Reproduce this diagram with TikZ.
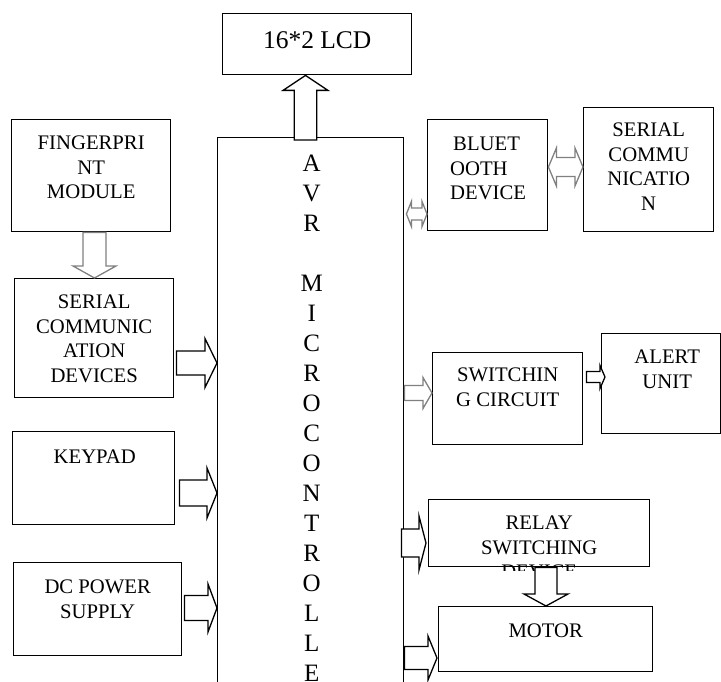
\documentclass[tikz,border=0pt]{standalone}
\usepackage{fontspec}
\setmainfont{Liberation Serif}
\usetikzlibrary{calc}

% Text sizes
\newcommand{\bodyfont}{\fontsize{20.7}{24.5}\selectfont}
\newcommand{\bigfont}{\fontsize{25.5}{30}\selectfont}

% Block arrows: [style]{tail}{tip}{shaft half width}{head half width}{head length}
\newcommand{\arrowR}[6][]{%
  \draw[#1] let \p1=(#2), \p2=(#3) in
    (\x1,\y2+#4pt) -- (\x2-#6pt,\y2+#4pt) -- (\x2-#6pt,\y2+#5pt) -- (\x2,\y2)
    -- (\x2-#6pt,\y2-#5pt) -- (\x2-#6pt,\y2-#4pt) -- (\x1,\y2-#4pt) -- cycle;}
\newcommand{\arrowD}[6][]{%
  \draw[#1] let \p1=(#2), \p2=(#3) in
    (\x2-#4pt,\y1) -- (\x2-#4pt,\y2+#6pt) -- (\x2-#5pt,\y2+#6pt) -- (\x2,\y2)
    -- (\x2+#5pt,\y2+#6pt) -- (\x2+#4pt,\y2+#6pt) -- (\x2+#4pt,\y1) -- cycle;}
\newcommand{\arrowU}[6][]{%
  \draw[#1] let \p1=(#2), \p2=(#3) in
    (\x2-#4pt,\y1) -- (\x2-#4pt,\y2-#6pt) -- (\x2-#5pt,\y2-#6pt) -- (\x2,\y2)
    -- (\x2+#5pt,\y2-#6pt) -- (\x2+#4pt,\y2-#6pt) -- (\x2+#4pt,\y1) -- cycle;}
\newcommand{\arrowLR}[6][]{%
  \draw[#1] let \p1=(#2), \p2=(#3) in
    (\x1,\y2) -- (\x1+#6pt,\y2+#5pt) -- (\x1+#6pt,\y2+#4pt) -- (\x2-#6pt,\y2+#4pt)
    -- (\x2-#6pt,\y2+#5pt) -- (\x2,\y2) -- (\x2-#6pt,\y2-#5pt) -- (\x2-#6pt,\y2-#4pt)
    -- (\x1+#6pt,\y2-#4pt) -- (\x1+#6pt,\y2-#5pt) -- cycle;}

\tikzset{
  box/.style={draw, line width=1.4pt, fill=white, anchor=north west, inner sep=0pt},
  boxtext/.style={anchor=north, align=center, inner sep=0pt, font=\bodyfont},
  blockarrow/.style={draw, line width=1.3pt, fill=white},
  greyarrow/.style={draw=black!50, line width=1.3pt, fill=white}
}

\begin{document}
\begin{tikzpicture}[x=1pt, y=-1pt]

\useasboundingbox (0,0) rectangle (721,682);

% Controller in the middle (runs off the bottom)
\node[box, minimum width=186pt, minimum height=600pt] (avr) at (217,137) {};
\node[anchor=north, align=center, inner sep=0pt, font=\fontsize{25}{30}\selectfont] (avrtext)
  at ([xshift=1pt, yshift=-18pt]avr.north)
  {A\\V\\R\\[30pt]M\\I\\C\\R\\O\\C\\O\\N\\T\\R\\O\\L\\L\\E};

% Display on top
\node[box, minimum width=189pt, minimum height=61pt] (lcd) at (222,13) {};
\node[boxtext, font=\bigfont] (lcdtext) at ([yshift=-18.5pt]lcd.north) {16*2 LCD};

% Left column
\node[box, minimum width=159pt, minimum height=112pt] (fp) at (11,119) {};
\node[boxtext] (fptext) at ([yshift=-17pt]fp.north) {FINGERPRI\\NT\\MODULE};

\node[box, minimum width=159pt, minimum height=119pt] (ser) at (14,278) {};
\node[boxtext] (sertext) at ([yshift=-17pt]ser.north) {SERIAL\\COMMUNIC\\ATION\\DEVICES};

\node[box, minimum width=162pt, minimum height=93pt] (key) at (12,431) {};
\node[boxtext] (keytext) at ([xshift=1pt, yshift=-19pt]key.north) {KEYPAD};

\node[box, minimum width=168pt, minimum height=93pt] (dc) at (13,562) {};
\node[boxtext] (dctext) at ([yshift=-18pt]dc.north) {DC POWER\\SUPPLY};

% Right column
\node[box, minimum width=120pt, minimum height=111pt] (bt) at (427,119) {};
\node[boxtext, anchor=north west, align=left] (bttext)
  at ([xshift=23pt, yshift=-18pt]bt.north west) {\hspace*{3pt}BLUET\\OOTH\\DEVICE};

\node[box, minimum width=130pt, minimum height=124pt] (com) at (583,107) {};
\node[boxtext] (comtext) at ([yshift=-16pt]com.north) {SERIAL\\COMMU\\NICATIO\\N};

\node[box, minimum width=150pt, minimum height=92pt] (sw) at (432,352) {};
\node[boxtext] (swtext) at ([yshift=-16pt]sw.north) {SWITCHIN\\G CIRCUIT};

\node[box, minimum width=119pt, minimum height=100pt] (alert) at (601,333) {};
\node[boxtext] (alerttext) at ([xshift=6pt, yshift=-17pt]alert.north) {ALERT\\UNIT};

\node[box, minimum width=221pt, minimum height=67pt] (relay) at (428,499) {};
\begin{scope}
  \clip (relay.north west) rectangle ([yshift=-3pt]relay.south east);
  \node[boxtext] (relaytext) at ([yshift=-17pt]relay.north) {RELAY\\SWITCHING\\DEVICE};
\end{scope}

\node[box, minimum width=214pt, minimum height=65pt] (motor) at (438,606) {};
\node[boxtext] (motortext) at ([yshift=-18pt]motor.north) {MOTOR};

% Arrows
\arrowU[blockarrow]{$(305.5,0 |- avr.north)+(0,3)$}{305.5,0 |- lcd.south}{11.3}{22.5}{15}
\arrowD[greyarrow]{94.5,0 |- fp.south}{94.5,0 |- ser.north}{11.5}{21.5}{12}
\arrowR[blockarrow]{[xshift=2pt]ser.east}{avr.west |- 0,363}{12}{24.5}{12}
\arrowR[blockarrow]{[xshift=4pt]key.east}{avr.west |- 0,493}{13}{25}{10}
\arrowR[blockarrow]{[xshift=2pt]dc.east}{avr.west |- 0,608}{12.5}{24}{9}
\arrowLR[greyarrow]{[xshift=2pt]avr.east |- 0,214}{bt.west |- 0,214}{6}{12.5}{5}
\arrowLR[greyarrow]{bt.east |- 0,167}{com.west |- 0,167}{9.5}{19}{8}
\arrowR[greyarrow]{avr.east |- 0,393}{sw.west |- 0,393}{7.5}{15.5}{9}
\arrowR[blockarrow]{[xshift=3pt]sw.east |- 0,377}{[xshift=4pt]alert.west |- 0,377}{5.5}{11.5}{5}
\arrowR[blockarrow]{[xshift=-3pt]avr.east |- 0,543}{[xshift=-2pt]relay.west |- 0,543}{14}{27}{7}
\arrowD[blockarrow]{546,0 |- relay.south}{546,0 |- motor.north}{11}{22}{12}
\arrowR[blockarrow]{avr.east |- 0,658}{[xshift=-1pt]motor.west |- 0,658}{11.5}{22}{9}

\end{tikzpicture}
\end{document}
